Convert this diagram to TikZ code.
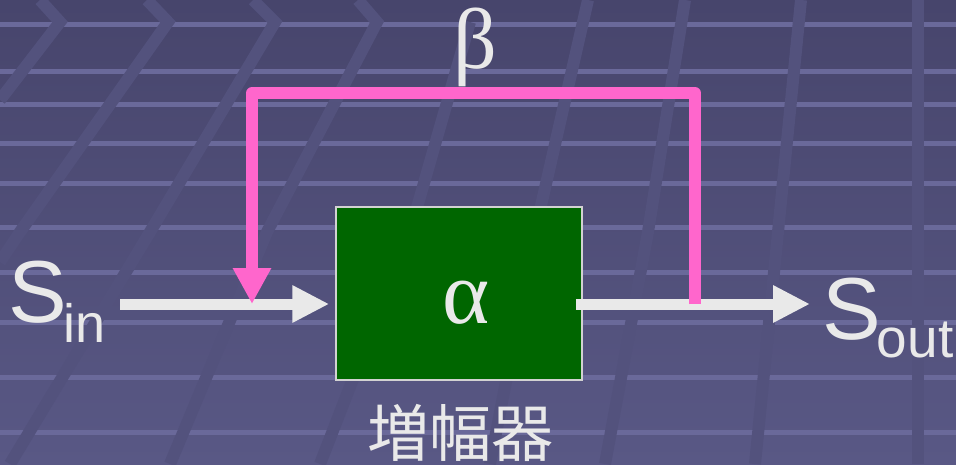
\documentclass[tikz,border=0pt]{standalone}
\usepackage{fontspec}
\setmainfont{Liberation Sans}
\newfontfamily\grkfont{Liberation Serif}
\newfontfamily\cjk{Noto Sans CJK JP}
\usetikzlibrary{arrows.meta}
\definecolor{bgtop}{HTML}{47456C}
\definecolor{bgbot}{HTML}{595885}
\definecolor{bgline}{HTML}{6A699A}
\definecolor{bgslant}{HTML}{53527D}
\definecolor{ampgreen}{HTML}{006600}
\definecolor{sigwhite}{HTML}{E9E9E9}
\definecolor{fbpink}{HTML}{FF66CC}

\begin{document}
\begin{tikzpicture}[x=1pt,y=-1pt,>=Latex]
% slide background
\useasboundingbox (0,0) rectangle (956,464);
\fill[top color=bgtop,bottom color=bgbot] (0,0) rectangle (956,464);
\foreach \y in {24,71,104,143,183,227,272,322,377,432}
  \fill[bgline] (0,\y-2.5) rectangle (956,\y+2.5);
\draw[bgslant,line width=12pt] (40,0) -- (60,22) -- (0,100);
\draw[bgslant,line width=12pt] (147,0) -- (168,22) -- (20,232) -- (0,262);
\draw[bgslant,line width=12pt] (253,0) -- (275,22) -- (150,232) -- (10,464);
\draw[bgslant,line width=12pt] (358,0) -- (377,22) -- (267,232) -- (170,464);
\draw[bgslant,line width=12pt] (470,22) -- (410,232) -- (320,464);
\draw[bgslant,line width=12pt] (588,0) -- (535,232) -- (490,464);
\draw[bgslant,line width=12pt] (685,0) -- (648,232) -- (605,464);
\draw[bgslant,line width=12pt] (801,0) -- (778,232) -- (755,464);
\draw[bgslant,line width=12pt] (918,0) -- (918,464);

\node[draw=sigwhite!90!black,line width=1.5pt,fill=ampgreen,minimum width=246pt,minimum height=173pt,inner sep=0pt] (amp) at (459,293.5) {};
\node[text=sigwhite,inner sep=0pt] (alpha) at (466,303) {\grkfont\fontsize{90}{90}\selectfont α};
\node[text=sigwhite] (beta) at (475,47) {\grkfont\fontsize{86}{86}\selectfont β};
\node[anchor=base west,inner sep=0pt,font=\fontsize{88}{88}\selectfont,text=sigwhite] (sin) at (8,322) {S\kern-3pt\raisebox{-20pt}{\fontsize{54}{54}\selectfont in}};
\node[anchor=base west,inner sep=0pt,font=\fontsize{88}{88}\selectfont,text=sigwhite] (sout) at (822,339) {S\kern-4pt\raisebox{-18pt}{\fontsize{55}{55}\selectfont out}};
\node[font={\cjk\fontsize{62}{62}\selectfont},text=sigwhite] (lbl) at (460,433) {増幅器};

\coordinate (in) at (120,304);
\coordinate (out) at (810,304);
\coordinate (tap) at (695,304);
\coordinate (sum) at (252,304);
\draw[draw=sigwhite,line width=11pt,-{Triangle[length=37pt,width=35pt]},shorten >=6pt] (in) -- (amp.west |- in);
\draw[draw=sigwhite,line width=11pt,-{Triangle[length=37pt,width=35pt]},shorten <=-7pt] (amp.east |- out) -- (out);
\draw[draw=fbpink,line width=12pt,line join=round,-{Triangle[length=36pt,width=36pt]}] (tap) -- ++(0,-211) -| (sum);
\end{tikzpicture}
\end{document}
